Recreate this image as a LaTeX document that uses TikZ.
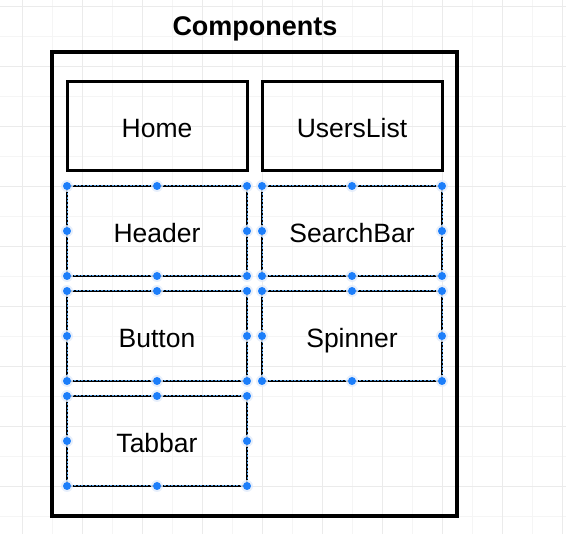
\documentclass[tikz,border=0pt]{standalone}
\usepackage{fontspec}
\setmainfont{Liberation Sans}
\usepackage{xcolor}
\definecolor{selblue}{RGB}{80,155,225}
\definecolor{knobblue}{RGB}{28,126,250}
\definecolor{haloblue}{RGB}{225,235,250}
\definecolor{gridminor}{RGB}{245,245,245}
\definecolor{gridmajor}{RGB}{235,235,235}
\tikzset{plain box/.style={draw = black, line width = 3pt, minimum width = 180pt, minimum height = 89pt,
  inner sep = 0pt, outer sep = 0pt, font = \fontsize{26.5}{30}\selectfont, text height = 25.6pt, text depth = 2.6pt}}
\tikzset{picked box/.style={plain box, line width = 2.6pt, minimum height = 90pt,
  postaction={draw = selblue, line width = 1pt, dash pattern = on 2pt off 1.6pt}}}
\tikzset{knob/.style={fill = knobblue}}

\begin{document}
\begin{tikzpicture}[x = 1pt, y = -1pt]
  \useasboundingbox (0,0) rectangle (566,534);
  % background grid
  \foreach \gx in {22,52,...,562} \draw[gridminor, line width = 0.8pt] (\gx,0) -- (\gx,534);
  \foreach \gy in {6,36,...,516} \draw[gridminor, line width = 0.8pt] (0,\gy) -- (566,\gy);
  \foreach \gx in {22,82,...,562} \draw[gridmajor, line width = 0.8pt] (\gx,0) -- (\gx,534);
  \foreach \gy in {6,66,...,486} \draw[gridmajor, line width = 0.8pt] (0,\gy) -- (566,\gy);

  \node[anchor = base, font = \bfseries\fontsize{27}{30}\selectfont] (title) at (255,36) {Components};
  \node[draw = black, line width = 3.4pt, minimum width = 405pt, minimum height = 464pt, outer sep = 0pt] (frame) at (254.5,284) {};

  \node[plain box] (home) at (157,126.5) {Home};
  \node[plain box] (userslist) at (352,126.5) {UsersList};
  \node[picked box] (header) at (157,231) {Header};
  \node[picked box] (searchbar) at (352,231) {SearchBar};
  \node[picked box] (button) at (157,336) {Button};
  \node[picked box] (spinner) at (352,336) {Spinner};
  \node[picked box] (tabbar) at (157,441) {Tabbar};

  % selection handles
  \foreach \b in {header, searchbar, button, spinner, tabbar}
    \foreach \a in {north west, north, north east, east, south east, south, south west, west} {
      \fill[haloblue, opacity = 0.8] (\b.\a) circle (6pt);
      \fill[knob] (\b.\a) circle (4pt);
    }
\end{tikzpicture}
\end{document}
